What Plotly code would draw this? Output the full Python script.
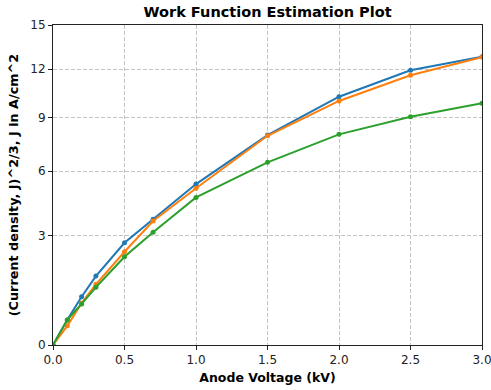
import plotly.graph_objects as go

voltage_kv = [0.0, 0.1, 0.2, 0.3, 0.5, 0.7, 1.0, 1.5, 2.0, 2.5, 3.0]
series_a = [0.0, 0.33, 0.88, 1.50, 2.71, 3.69, 5.35, 7.97, 10.25, 11.93, 12.83]
series_b = [0.0, 0.22, 0.71, 1.24, 2.36, 3.62, 5.14, 7.93, 9.99, 11.61, 12.80]
series_c = [0.0, 0.33, 0.69, 1.15, 2.17, 3.14, 4.70, 6.47, 8.01, 9.04, 9.85]
y_tick_values = [0, 3, 6, 9, 12, 15]
x_tick_values = [0.0, 0.5, 1.0, 1.5, 2.0, 2.5, 3.0]

def tr(v):
    return v ** (2.0 / 3.0)

colors = ["#1f77b4", "#ff7f0e", "#2ca02c"]
fig = go.Figure()
for ys, c in zip([series_a, series_b, series_c], colors):
    fig.add_trace(go.Scatter(
        x=voltage_kv, y=[tr(v) for v in ys], mode="lines+markers",
        line=dict(color=c, width=2), marker=dict(color=c, size=5),
        showlegend=False, cliponaxis=True))

font = "DejaVu Sans, Liberation Sans, sans-serif"
fig.update_layout(
    width=491, height=390,
    margin=dict(l=53, r=9, t=25, b=45),
    paper_bgcolor="white", plot_bgcolor="white",
    font=dict(family=font, size=12, color="#222"),
    title=dict(text="<b>Work Function Estimation Plot</b>", x=0.545, xanchor="center",
               y=0.97, yanchor="middle", font=dict(size=14.5, color="black")),
)
grid = dict(showgrid=True, gridcolor="#c4c4c4", griddash="4px,2px", gridwidth=1, zeroline=False)
fig.update_xaxes(
    range=[0, 3.0], tickvals=x_tick_values, ticktext=[f"{v:.1f}" for v in x_tick_values],
    ticks="outside", ticklen=4, tickcolor="#222", showline=True, linecolor="#222", linewidth=1,
    mirror=True, ticklabeloverflow="allow", automargin=False, **grid,
    title=dict(text="<b>Anode Voltage (kV)</b>", standoff=6, font=dict(size=12.5, color="black")),
)
fig.update_yaxes(
    range=[0, tr(15)], tickvals=[tr(v) for v in y_tick_values], ticktext=[str(v) for v in y_tick_values],
    ticks="outside", ticklen=4, tickcolor="#222", showline=True, linecolor="#222", linewidth=1,
    mirror=True, ticklabeloverflow="allow", automargin=False, **grid,
    title=dict(text="<b>(Current density, J)^2/3, J in A/cm^2</b>", standoff=8, font=dict(size=12.8, color="black")),
)
fig.write_html("out.html", config={"displayModeBar": False},
               post_script="document.body.style.margin='0';document.body.style.overflow='hidden';")
